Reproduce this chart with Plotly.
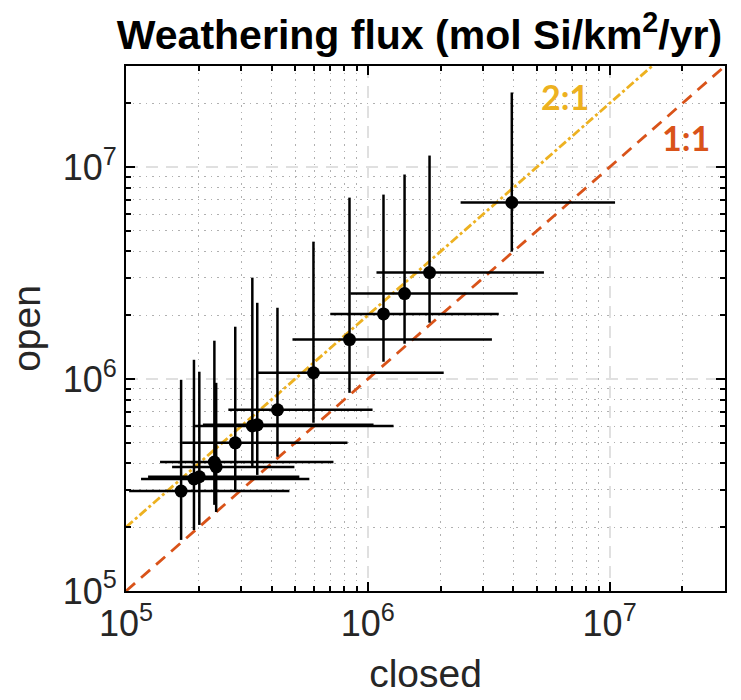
import numpy as np
import plotly.graph_objects as go

# Weathering flux estimates (mol Si / km^2 / yr): closed vs open system
closed = [1.69e5, 1.91e5, 2.01e5, 2.32e5, 2.36e5, 2.83e5, 3.33e5, 3.49e5,
          4.23e5, 5.96e5, 8.40e5, 1.161e6, 1.419e6, 1.80e6, 3.94e6]
open_ = [2.96e5, 3.38e5, 3.46e5, 4.06e5, 3.85e5, 5.0e5, 6.01e5, 6.08e5,
         7.16e5, 1.071e6, 1.535e6, 2.03e6, 2.53e6, 3.18e6, 6.81e6]

closed_low = [1.03e5, 1.154e5, 1.234e5, 1.383e5, 1.551e5, 1.706e5, 1.93e5, 2.08e5,
              2.65e5, 3.49e5, 4.88e5, 7.0e5, 8.47e5, 1.086e6, 2.42e6]
closed_high = [4.74e5, 5.73e5, 5.21e5, 7.21e5, 4.97e5, 8.24e5, 1.278e6, 1.056e6,
               1.046e6, 2.06e6, 3.26e6, 3.48e6, 4.17e6, 5.35e6, 1.053e7]
open_low = [1.742e5, 1.94e5, 2.05e5, 2.55e5, 2.36e5, 2.94e5, 3.85e5, 3.53e5,
            4.30e5, 6.22e5, 8.61e5, 1.207e6, 1.468e6, 1.845e6, 3.99e6]
open_high = [9.92e5, 1.233e6, 1.083e6, 1.517e6, 9.6e5, 1.766e6, 3.01e6, 2.29e6,
             2.17e6, 4.45e6, 7.18e6, 7.42e6, 9.23e6, 1.134e7, 2.25e7]

axis_min, axis_max = 1e5, 3e7
tick_vals = [1e5, 1e6, 1e7]
tick_text = ["10<sup>5</sup>", "10<sup>6</sup>", "10<sup>7</sup>"]
minor_vals = [k * 10 ** d for d in (5, 6, 7) for k in range(2, 10) if k * 10 ** d <= axis_max]

c = np.array(closed)
o = np.array(open_)

fig = go.Figure()

# reference lines: 2:1 and 1:1
fig.add_trace(go.Scatter(
    x=[axis_min, axis_max / 2], y=[2 * axis_min, axis_max], mode="lines",
    line=dict(color="#EDB120", width=2.8, dash="9px,3px,3px,3px"),
    hoverinfo="skip", showlegend=False))
fig.add_trace(go.Scatter(
    x=[axis_min, axis_max], y=[axis_min, axis_max], mode="lines",
    line=dict(color="#D95319", width=2.8, dash="12px,8px"),
    hoverinfo="skip", showlegend=False))

fig.add_trace(go.Scatter(
    x=closed, y=open_, mode="markers",
    marker=dict(color="black", size=13),
    error_x=dict(type="data", symmetric=False,
                 array=np.array(closed_high) - c,
                 arrayminus=c - np.array(closed_low),
                 color="black", thickness=2.5, width=0),
    error_y=dict(type="data", symmetric=False,
                 array=np.array(open_high) - o,
                 arrayminus=o - np.array(open_low),
                 color="black", thickness=2.5, width=0),
    showlegend=False))

fig.add_annotation(x=6.815, y=7.331, text="<b>2:1</b>",
                   showarrow=False, font=dict(family="Lato", size=34, color="#EDB120"))
fig.add_annotation(x=7.3146, y=7.1375, text="<b>1:1</b>",
                   showarrow=False, font=dict(family="Lato", size=34, color="#D95319"))

axis_common = dict(
    type="log",
    range=[np.log10(axis_min), np.log10(axis_max)],
    tickvals=tick_vals, ticktext=tick_text,
    ticks="inside", ticklen=9, tickwidth=2, tickcolor="black",
    showline=True, linecolor="black", linewidth=2, mirror="ticks",
    showgrid=True, gridcolor="#e0e0e0", gridwidth=2, griddash="12px,8px",
    zeroline=False,
    tickfont=dict(family="Liberation Sans", size=36, color="#262626"),
    minor=dict(tickvals=minor_vals, ticks="inside", ticklen=5, tickwidth=1.5,
               tickcolor="black", showgrid=True, gridcolor="#b0b0b0",
               gridwidth=1.2, griddash="1.5px,5px"),
)

fig.update_xaxes(**axis_common,
                 title=dict(text="closed", standoff=16,
                            font=dict(family="Liberation Sans", size=39, color="#262626")))
fig.update_yaxes(**axis_common,
                 title=dict(text="open", standoff=10,
                            font=dict(family="Liberation Sans", size=39, color="#262626")))

fig.update_layout(
    width=741, height=700,
    margin=dict(l=126, r=16, t=66, b=109),
    plot_bgcolor="white", paper_bgcolor="white",
    title=dict(text="<b>Weathering flux (mol Si/km<sup>2</sup>/yr)</b>",
               x=419.5 / 741, xanchor="center", yref="container",
               y=1 - 35 / 700, yanchor="middle",
               font=dict(family="Liberation Sans", size=41, color="black")),
)

fig.write_html("out.html")
